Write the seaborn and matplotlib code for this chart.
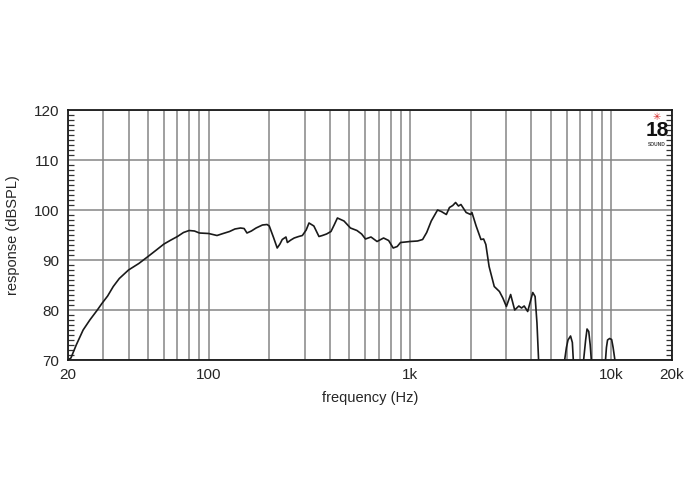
import numpy as np
import pandas as pd
import matplotlib
matplotlib.use("Agg")
import matplotlib.pyplot as plt
from matplotlib.ticker import FixedLocator, MultipleLocator, NullFormatter
import seaborn as sns

# Frequency response (Hz, dBSPL)
freq = [20, 20.7, 22, 23.8, 25.7, 28, 29.5, 31.5, 33.6, 36, 40, 45, 50, 55,
        60, 65, 70, 75, 80, 85, 90, 100, 110, 118, 127, 135, 144, 150, 155,
        163, 172, 185, 195, 200, 210, 219, 226, 232, 242, 246, 256, 266, 280,
        292, 305, 315, 333, 353, 367, 385, 405, 420, 436, 470, 506, 545, 575,
        601, 640, 686, 739, 783, 825, 864, 897, 950, 1000, 1090, 1155, 1210,
        1275, 1370, 1430, 1515, 1570, 1630, 1684, 1740, 1790, 1900, 2000, 2030,
        2130, 2250, 2320, 2380, 2470, 2620, 2780, 2890, 3010, 3160, 3310, 3470,
        3580, 3690, 3840, 4070, 4180, 4270, 4350, 4450,
        5700, 5860, 5980, 6090, 6270, 6400, 6470, 6600,
        7150, 7280, 7450, 7570, 7720, 7850, 7950, 8100,
        9200, 9350, 9450, 9570, 9800, 10030, 10200, 10410, 10550]
spl = [70, 70.4, 73, 76, 78, 80, 81.3, 82.8, 84.7, 86.3, 88, 89.3, 90.7, 92,
       93.2, 94, 94.7, 95.5, 95.9, 95.8, 95.4, 95.3, 94.9, 95.3, 95.7, 96.2,
       96.4, 96.3, 95.4, 95.8, 96.4, 97, 97.1, 96.8, 94.5, 92.4, 93.2, 94.1,
       94.6, 93.5, 94, 94.4, 94.7, 94.9, 96, 97.4, 96.8, 94.7, 94.9, 95.2,
       95.7, 97, 98.4, 97.8, 96.4, 95.9, 95.2, 94.2, 94.6, 93.7, 94.4, 93.9,
       92.4, 92.7, 93.5, 93.6, 93.7, 93.8, 94.1, 95.5, 97.8, 100, 99.7, 99.1,
       100.5, 100.9, 101.5, 100.8, 101.1, 99.5, 99.1, 99.5, 96.8, 94.1, 94.2,
       93.1, 88.7, 84.7, 83.7, 82.4, 80.7, 83.1, 80, 80.8, 80.4, 80.8, 79.7,
       83.5, 82.7, 77.4, 70, 60,
       60, 70, 72.5, 74, 74.8, 73.5, 70, 60,
       60, 70, 74, 76.2, 75.7, 73, 70, 60,
       60, 70, 72.5, 74, 74.3, 74.1, 72.5, 70, 60]

y_ticks = [70, 80, 90, 100, 110, 120]
x_ticks = [20, 100, 1000, 10000, 20000]
x_tick_labels = ["20", "100", "1k", "10k", "20k"]
grid_freqs = [30, 40, 50, 60, 70, 80, 90, 200, 300, 400, 500, 600, 700, 800,
              900, 2000, 3000, 4000, 5000, 6000, 7000, 8000, 9000]

df = pd.DataFrame({"freq": freq, "spl": spl})

sns.set_style("white")
plt.rcParams["font.family"] = ["Liberation Sans", "DejaVu Sans"]

fig = plt.figure(figsize=(7, 5), dpi=100)
ax = fig.add_axes([0.097, 0.28, 0.863, 0.50])

sns.lineplot(data=df, x="freq", y="spl", color="#1a1a1a", linewidth=1.2,
             sort=False, estimator=None, ax=ax)

ax.set_xscale("log")
ax.set_xlim(20, 20000)
ax.set_ylim(70, 120)
ax.set_xticks(x_ticks)
ax.set_xticklabels(x_tick_labels)
ax.xaxis.set_minor_locator(FixedLocator(grid_freqs))
ax.xaxis.set_minor_formatter(NullFormatter())
ax.set_yticks(y_ticks)
ax.yaxis.set_minor_locator(MultipleLocator(1))

ax.grid(True, which="major", color="#858585", linewidth=1.1)
ax.grid(True, which="minor", axis="x", color="#858585", linewidth=1.1)
ax.set_axisbelow(True)

ax.tick_params(axis="x", which="both", length=0, pad=6, labelsize=11)
ax.tick_params(axis="y", which="major", length=0, pad=6, labelsize=11)
ax.tick_params(axis="y", which="minor", direction="in", length=4,
               width=0.9, left=True, right=True, color="#333333")

for s in ax.spines.values():
    s.set_color("#1a1a1a")
    s.set_linewidth(1.3)

ax.set_xlabel("frequency (Hz)", fontsize=10.5, labelpad=6)
ax.set_ylabel("response (dBSPL)", fontsize=10.5, labelpad=10)

# brand mark in the top right corner
fig.text(0.938, 0.766, "\u2733", color="#d42020", fontsize=7,
         ha="center", va="center", family=["DejaVu Sans"])
fig.text(0.939, 0.738, "18", color="#111", fontsize=15, fontweight="bold",
         ha="center", va="center", fontstretch="condensed")
fig.text(0.939, 0.71, "SOUND", color="#444", fontsize=3.5, fontweight="bold",
         ha="center", va="center")

fig.savefig("out.png", dpi=100, facecolor="white")
